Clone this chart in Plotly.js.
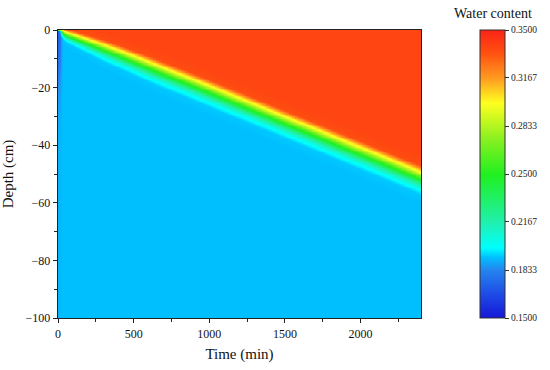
<!DOCTYPE html>
<html>
<head>
<meta charset="utf-8">
<script src="https://cdn.plot.ly/plotly-3.0.1.min.js"></script>
<style>html,body{margin:0;padding:0;background:#fff;}#chart{width:550px;height:370px;}</style>
</head>
<body>
<div id="chart"></div>
<script>
// ---- data ----
// wetting-front depth (cm, centre of the green band) against time (min)
const frontTime  = [0, 50, 100, 200, 400, 600, 800, 1000, 1200, 1400, 1600, 1800, 2000, 2200, 2400];
const frontDepth = [0, 1.8, 2.8, 4.8, 9.0, 13.3, 17.5, 21.7, 26.0, 30.3, 34.6, 38.9, 43.2, 47.5, 51.8];
// relative thickness of the transition band against time
const bandTime  = [0, 100, 300, 600, 1000, 2400];
const bandScale = [0.35, 0.55, 0.8, 0.95, 1.0, 1.05];
// water content across the front (offset in cm, + = deeper than front)
const profileOffset = [-8, -4.5, -3.0, -1.5, 0, 2.0, 3.5, 5.0, 8];
const profileTheta  = [0.338, 0.335, 0.308, 0.282, 0.250, 0.215, 0.200, 0.193, 0.192];
// early-time (t≈0) dry column below the surface
const initDepth = [0, 8, 20, 35, 100];
const initTheta = [0.170, 0.175, 0.185, 0.190, 0.191];
const initDuration = 28;
// axes
const timeTicks  = [0, 500, 1000, 1500, 2000];
const depthTicks = [0, -20, -40, -60, -80, -100];
const cbTickVals = [0.15, 0.1833, 0.2167, 0.25, 0.2833, 0.3167, 0.35];
const cbTickText = ['0.1500', '0.1833', '0.2167', '0.2500', '0.2833', '0.3167', '0.3500'];
const thetaMin = 0.15, thetaMax = 0.35;
// grid of the field
const timeStep = 10, depthStep = 0.5, timeMax = 2400, depthMax = 100;

function interp(xs, ys, x) {
  if (x <= xs[0]) return ys[0];
  if (x >= xs[xs.length - 1]) return ys[ys.length - 1];
  for (let i = 1; i < xs.length; i++) {
    if (x <= xs[i]) {
      const f = (x - xs[i - 1]) / (xs[i] - xs[i - 1]);
      return ys[i - 1] + f * (ys[i] - ys[i - 1]);
    }
  }
  return ys[ys.length - 1];
}

const xs = [], ys = [], z = [];
for (let t = 0; t <= timeMax; t += timeStep) xs.push(t);
for (let d = depthMax; d >= 0; d -= depthStep) ys.push(-d);
for (const y of ys) {
  const row = [];
  const depth = -y;
  for (const t of xs) {
    const f = interp(frontTime, frontDepth, t);
    const w = interp(bandTime, bandScale, t);
    let th = interp(profileOffset, profileTheta, (depth - f) / w);
    if (t < initDuration && depth > f) {
      const a = t / initDuration;
      th = (1 - a) * interp(initDepth, initTheta, depth) + a * th;
    }
    row.push(th);
  }
  z.push(row);
}

const colorscale = [
  [0.000, '#1616d6'],
  [0.080, '#1d4ae6'],
  [0.167, '#2585ef'],
  [0.210, '#00bfff'],
  [0.243, '#00ffff'],
  [0.330, '#20f0b0'],
  [0.420, '#20f060'],
  [0.497, '#20f020'],
  [0.620, '#88f020'],
  [0.746, '#ffff20'],
  [0.833, '#ff9a20'],
  [0.920, '#ff5010'],
  [1.000, '#fa2418']
];

const serif = 'Liberation Serif, Times New Roman, serif';

const trace = {
  type: 'heatmap',
  x: xs, y: ys, z: z,
  zmin: thetaMin, zmax: thetaMax,
  zsmooth: 'best',
  colorscale: colorscale,
  colorbar: {
    x: (483 - 58) / 366, xanchor: 'left', xpad: 0,
    y: 1, yanchor: 'top', ypad: 0,
    lenmode: 'pixels', len: 288,
    thickness: 25,
    outlinewidth: 1, outlinecolor: '#333',
    tickmode: 'array', tickvals: cbTickVals, ticktext: cbTickText,
    ticks: 'outside', ticklen: 4, tickcolor: '#333',
    tickfont: {family: serif, size: 9.5, color: '#222'}
  },
  hoverinfo: 'skip'
};

const layout = {
  width: 550, height: 370,
  margin: {l: 58, r: 126, t: 30, b: 52},
  paper_bgcolor: '#fff', plot_bgcolor: '#fff',
  showlegend: false,
  xaxis: {
    range: [0, 2400],
    tickmode: 'array', tickvals: timeTicks,
    ticks: 'outside', ticklen: 4, tickcolor: '#222',
    minor: {dtick: 250, tick0: 0, ticks: 'outside', ticklen: 3, tickcolor: '#222'},
    showline: true, linecolor: '#222', linewidth: 1.3, mirror: true,
    showgrid: false, zeroline: false,
    tickfont: {family: serif, size: 12, color: '#111'},
    title: {text: 'Time (min)', font: {family: serif, size: 15, color: '#111'}, standoff: 8}
  },
  yaxis: {
    range: [-100, 0],
    tickmode: 'array', tickvals: depthTicks,
    ticks: 'outside', ticklen: 4, tickcolor: '#222',
    minor: {dtick: 10, tick0: 0, ticks: 'outside', ticklen: 3, tickcolor: '#222'},
    showline: true, linecolor: '#222', linewidth: 1.3, mirror: true,
    showgrid: false, zeroline: false,
    tickfont: {family: serif, size: 12, color: '#111'},
    title: {text: 'Depth (cm)', font: {family: serif, size: 15, color: '#111'}, standoff: 8}
  },
  annotations: [{
    text: 'Water content', xref: 'paper', yref: 'paper',
    x: (497 - 58) / 366, y: 1 + 16 / 288, xanchor: 'center', yanchor: 'middle',
    showarrow: false, font: {family: serif, size: 14, color: '#111'}
  }]
};

Plotly.newPlot('chart', [trace], layout, {displayModeBar: false, staticPlot: true});
</script>
</body>
</html>
